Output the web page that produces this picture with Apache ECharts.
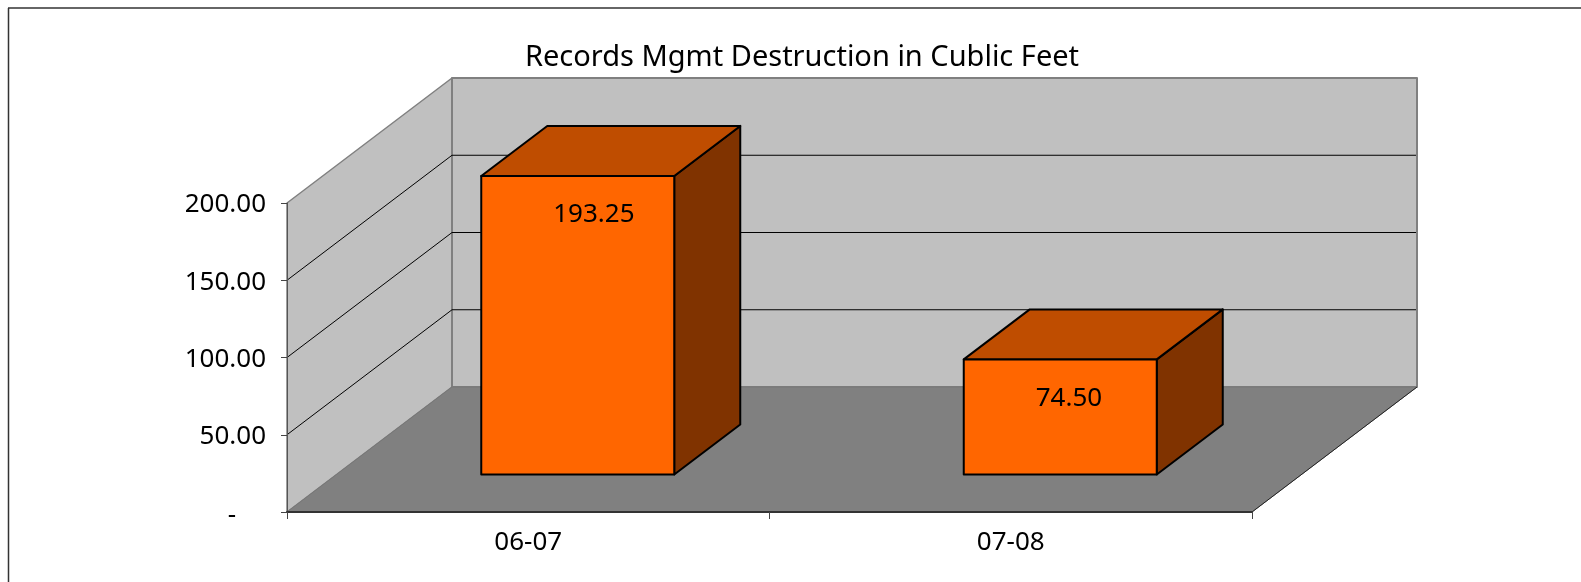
<!DOCTYPE html>
<html>
<head>
<meta charset="utf-8">
<title>Records Mgmt Destruction</title>
<script src="https://cdn.jsdelivr.net/npm/echarts@6/dist/echarts.min.js"></script>
<style>
  html, body { margin: 0; padding: 0; background: #fff; }
  #chart { width: 1581px; height: 582px; }
</style>
</head>
<body>
<div id="chart"></div>
<script>
  var titleText = 'Records Mgmt Destruction in Cublic Feet'
  var categories = ['06-07', '07-08']
  var values = [193.25, 74.5]
  var yTicks = [50, 100, 150, 200]

  var fontName = '"Noto Sans"'
  // how far the back wall sits from the front plane, in pixels
  var depthX = 165
  var depthY = -125

  function poly(points, fill, stroke, lineWidth) {
    return {
      type: 'polygon',
      shape: { points: points },
      style: { fill: fill, stroke: stroke, lineWidth: lineWidth, lineJoin: 'round' }
    }
  }

  function line(a, b, color, width) {
    return {
      type: 'line',
      shape: { x1: a[0], y1: a[1], x2: b[0], y2: b[1] },
      style: { stroke: color, lineWidth: width }
    }
  }

  function renderWalls(params, api) {
    var g = params.coordSys
    var left = g.x
    var right = g.x + g.width
    var top = g.y
    var bottom = g.y + g.height
    var children = [
      // side wall
      poly([[left, top], [left + depthX, top + depthY], [left + depthX, bottom + depthY], [left, bottom]], '#c0c0c0', '#808080', 1.5),
      // back wall
      poly([[left + depthX, top + depthY], [right + depthX, top + depthY], [right + depthX, bottom + depthY], [left + depthX, bottom + depthY]], '#c0c0c0', '#808080', 2),
      // floor
      poly([[left, bottom], [left + depthX, bottom + depthY], [right + depthX, bottom + depthY], [right, bottom]], '#808080', '#777777', 1),
      line([right, bottom], [right + depthX, bottom + depthY], '#222222', 1)
    ]
    yTicks.forEach(function (v) {
      if (v === 200) return
      var y = api.coord([0, v])[1]
      children.push(line([left, y], [left + depthX, y + depthY], '#000000', 1))
      children.push(line([left + depthX, y + depthY], [right + depthX - 1, y + depthY], '#000000', 1))
    })
    return { type: 'group', children: children }
  }

  function renderBar(params, api) {
    var base = api.coord([api.value(0), 0])
    var head = api.coord([api.value(0), api.value(1)])
    var band = api.size([1, 0])[0]
    var w = band * 0.4
    // the box stands from 30% to 70% of the floor depth
    var ox = depthX * 0.3
    var oy = depthY * 0.3
    var dx = depthX * 0.4
    var dy = depthY * 0.4
    var x0 = base[0] - w / 2 + ox
    var x1 = x0 + w
    var y0 = base[1] + oy
    var y1 = head[1] + oy
    return {
      type: 'group',
      children: [
        poly([[x1, y1], [x1 + dx, y1 + dy], [x1 + dx, y0 + dy], [x1, y0]], '#803300', '#000000', 2),
        poly([[x0, y1], [x0 + dx, y1 + dy], [x1 + dx, y1 + dy], [x1, y1]], '#bf4d00', '#000000', 2),
        poly([[x0, y1], [x1, y1], [x1, y0], [x0, y0]], '#ff6600', '#000000', 2),
        {
          type: 'text',
          style: {
            x: x0 + 72,
            y: y1 + 39,
            text: api.value(1).toFixed(2),
            fill: '#000000',
            font: '26px ' + fontName,
            textAlign: 'left',
            textVerticalAlign: 'middle'
          }
        }
      ]
    }
  }

  var chart = echarts.init(document.getElementById('chart'))
  chart.setOption({
    animation: false,
    backgroundColor: '#ffffff',
    textStyle: { fontFamily: fontName, color: '#000000' },
    title: {
      text: titleText,
      left: 797,
      top: 38,
      textAlign: 'center',
      textStyle: { fontFamily: fontName, fontSize: 29, fontWeight: 'normal', color: '#000000' }
    },
    grid: { left: 287, top: 203, width: 965, height: 309 },
    xAxis: {
      type: 'category',
      data: categories,
      z: 5,
      axisLine: { lineStyle: { color: '#333333', width: 2 } },
      axisTick: { show: true, length: 7, lineStyle: { color: '#444444', width: 1 } },
      axisLabel: { color: '#000000', fontSize: 26, fontFamily: fontName, margin: 18, interval: 0 }
    },
    yAxis: {
      type: 'value',
      min: 0,
      max: 200,
      interval: 50,
      z: 5,
      splitLine: { show: false },
      axisLine: { show: true, lineStyle: { color: '#555555', width: 1 } },
      axisTick: { show: true, length: 6, lineStyle: { color: '#444444', width: 1 } },
      axisLabel: {
        color: '#000000',
        fontSize: 26,
        fontFamily: fontName,
        margin: 21,
        verticalAlign: 'middle',
        lineHeight: 30,
        padding: [4, 0, 0, 0],
        formatter: function (v) {
          return v === 0 ? '{dash|-}' : v.toFixed(2)
        },
        rich: {
          dash: { fontSize: 26, fontFamily: fontName, padding: [4, 30, 0, 0] }
        }
      }
    },
    graphic: [
      { type: 'line', shape: { x1: 8, y1: 8, x2: 1581, y2: 8 }, style: { stroke: '#333333', lineWidth: 1.5 } },
      { type: 'line', shape: { x1: 8.5, y1: 8, x2: 8.5, y2: 582 }, style: { stroke: '#333333', lineWidth: 1.5 } }
    ],
    series: [
      {
        type: 'custom',
        renderItem: renderWalls,
        data: [[0, 0]],
        clip: false,
        silent: true,
        z: 1
      },
      {
        type: 'custom',
        renderItem: renderBar,
        data: values.map(function (v, i) { return [i, v] }),
        clip: false,
        z: 6
      }
    ]
  })
</script>
</body>
</html>
